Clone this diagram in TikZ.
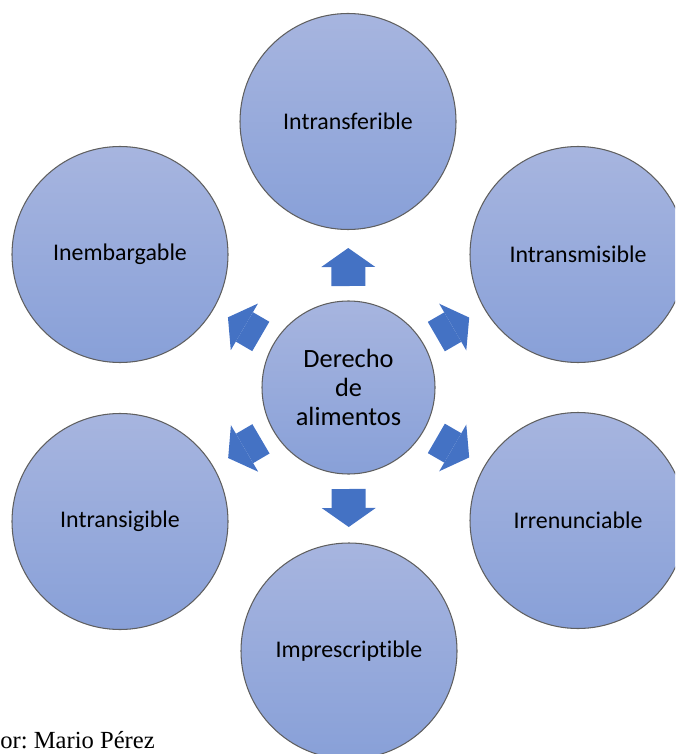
\documentclass[tikz,border=0pt]{standalone}
\usepackage{fontspec}
\setmainfont{Liberation Serif}
\newfontfamily\calibri[Ligatures={NoCommon}]{Carlito}
\usepackage{tikz}
\usetikzlibrary{arrows.meta,calc}
\definecolor{circtop}{RGB}{167,181,223}
\definecolor{circbot}{RGB}{136,160,216}
\definecolor{arrblue}{HTML}{4472C4}
\definecolor{circline}{HTML}{5F5F5F}

\begin{document}
\begin{tikzpicture}[
  circ/.style={circle, draw=circline, line width=0.6pt, top color=circtop, bottom color=circbot, inner sep=0pt, align=center, text=black},
  outer/.style={circ, minimum size=4.32cm, font=\calibri\fontsize{13.6}{16}\selectfont},
  hub/.style={circ, minimum size=3.46cm, font=\calibri\fontsize{15}{16.5}\selectfont},
  blk/.style={arrblue, line width=0.68cm, -{Triangle[length=0.38cm, width=1.08cm, line width=0pt]}},
  note/.style={font=\frenchspacing\fontsize{14}{16}\selectfont, anchor=base west, inner sep=0pt}
]
  \useasboundingbox (0,0) rectangle (13.5,-15.08);
  \clip (0,0) rectangle (13.5,-15.08);

  \node[hub] (ctr) at (6.97,-7.75) {Derecho\\de\\alimentos};
  \node[outer] (itf) at (6.96,-2.43) {Intransferible};
  \node[outer] (itm) at (11.56,-5.09) {Intransmisible};
  \node[outer] (irr) at (11.56,-10.41) {Irrenunciable};
  \node[outer] (imp) at (6.98,-13.02) {Imprescriptible};
  \node[outer] (itg) at (2.40,-10.43) {Intransigible};
  \node[outer] (inm) at (2.40,-5.09) {Inembargable};

  \foreach \n in {itf,itm,irr,imp,itg,inm}
    \draw[blk] ($(ctr.center)!2.03cm!(\n.center)$) -- ($(ctr.center)!2.79cm!(\n.center)$);

  \node[note] (autor) at (0,-14.96) {or: Mario Pérez};
\end{tikzpicture}
\end{document}
